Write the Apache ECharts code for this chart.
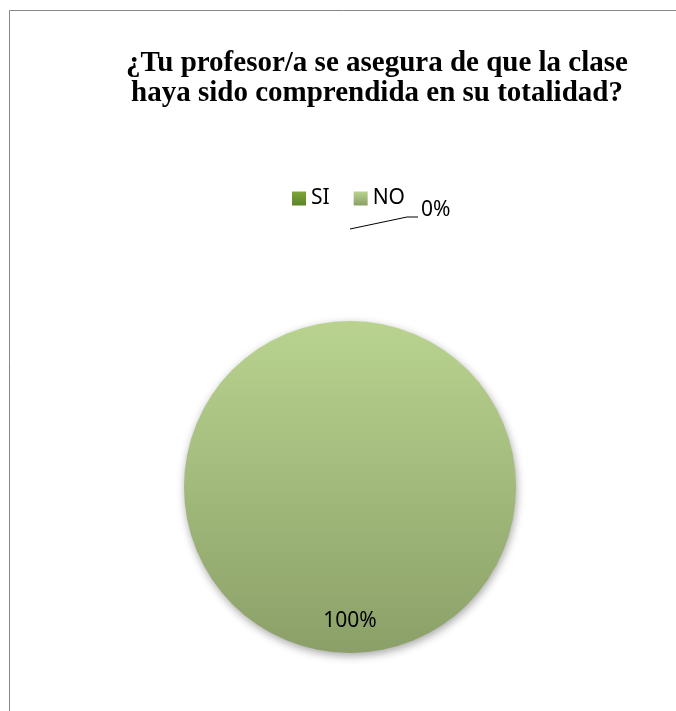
<!DOCTYPE html>
<html>
<head>
<meta charset="utf-8">
<script src="https://cdn.jsdelivr.net/npm/echarts@6/dist/echarts.min.js"></script>
<style>
  html, body { margin: 0; padding: 0; background: #fff; }
  #chart { width: 676px; height: 711px; }
</style>
</head>
<body>
<div id="chart"></div>
<script>
// datos de la encuesta
const categorias = ['SI', 'NO'];
const valores = [0, 100];
const titulo = '¿Tu profesor/a se asegura de que la clase\nhaya sido comprendida en su totalidad?';

const chart = echarts.init(document.getElementById('chart'));

// colores tipo Excel (verde oscuro / verde claro con degradado)
const colores = [
  new echarts.graphic.LinearGradient(0, 0, 0, 1, [
    { offset: 0, color: '#7ea63c' },
    { offset: 1, color: '#5a8526' }
  ]),
  new echarts.graphic.LinearGradient(0, 0, 0, 1, [
    { offset: 0, color: '#b9d38f' },
    { offset: 1, color: '#8ba068' }
  ])
];

const datos = categorias.map(function (c, i) {
  const item = { name: c, value: valores[i], itemStyle: { color: colores[i] } };
  if (valores[i] === 0) {
    item.label = { position: 'outside' };
    item.labelLine = { show: false };
  }
  return item;
});

const option = {
  animation: false,
  backgroundColor: '#fff',
  title: {
    text: titulo,
    left: 377,
    top: 49,
    textAlign: 'center',
    padding: 0,
    textStyle: {
      fontFamily: 'Liberation Serif',
      fontWeight: 'bold',
      fontSize: 29,
      lineHeight: 30,
      color: '#000'
    }
  },
  legend: {
    data: categorias,
    left: 287,
    top: 183,
    itemWidth: 14,
    itemHeight: 14,
    itemGap: 24,
    icon: 'rect',
    textStyle: {
      fontFamily: 'Noto Sans',
      fontSize: 21,
      color: '#000'
    }
  },
  // marco del gráfico y línea guía del 0%
  graphic: [
    {
      type: 'rect',
      shape: { x: 9.5, y: 10.5, width: 800, height: 800 },
      style: { fill: 'none', stroke: '#868686', lineWidth: 1 },
      silent: true
    },
    {
      type: 'polyline',
      shape: { points: [[350, 229], [407, 217], [418, 217]] },
      style: { fill: 'none', stroke: '#000', lineWidth: 1 },
      silent: true
    }
  ],
  series: [{
    type: 'pie',
    center: [350, 487],
    radius: 166,
    startAngle: 90,
    clockwise: true,
    data: datos,
    itemStyle: {
      borderWidth: 0,
      shadowBlur: 8,
      shadowOffsetX: 1,
      shadowOffsetY: 3,
      shadowColor: 'rgba(0,0,0,0.35)'
    },
    label: {
      show: true,
      position: 'inside',
      formatter: '{d}%',
      fontFamily: 'Noto Sans',
      fontSize: 21,
      color: '#000'
    },
    labelLayout: function (params) {
      if (params.dataIndex === 0) {
        return { x: 421, y: 210, align: 'left', verticalAlign: 'middle' };
      }
      return { dy: 48 };
    },
    emphasis: { disabled: true }
  }]
};

chart.setOption(option);
</script>
</body>
</html>
